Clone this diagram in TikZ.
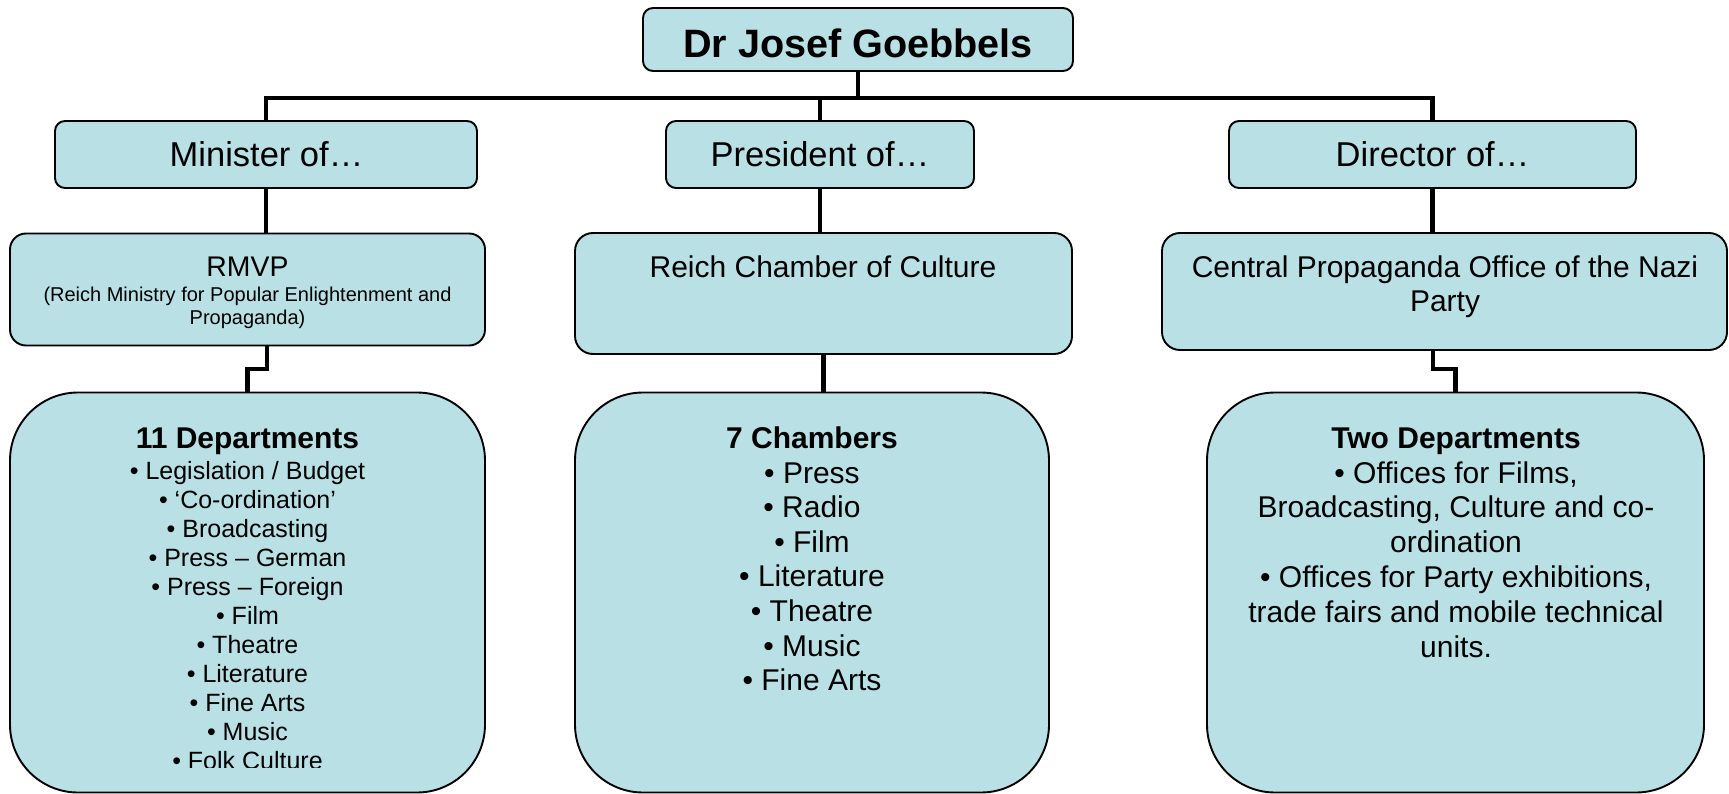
\documentclass[tikz,border=0pt]{standalone}
\usepackage{fontspec}
\setmainfont{Liberation Sans}
\definecolor{boxfill}{RGB}{185,224,228}
\begin{document}
\begin{tikzpicture}[x=1pt,y=-1pt,
  obox/.style={draw=black, line width=1.9pt, fill=boxfill, rounded corners=#1, inner sep=0pt, outer sep=0pt},
  conn/.style={line width=4.6pt, line join=miter},
  lbl/.style={inner sep=0pt, outer sep=0pt, anchor=base},
  fgoeb/.style={lbl, font=\fontsize{39.6}{45}\selectfont\bfseries},
  frole/.style={lbl, font=\fontsize{34.5}{40}\selectfont},
  fmid/.style={lbl, font=\fontsize{30}{34.7}\selectfont},
  fhead/.style={lbl, font=\fontsize{30}{34.7}\selectfont\bfseries},
  fsmall/.style={lbl, font=\fontsize{25}{29}\selectfont},
  fabbr/.style={lbl, font=\fontsize{28.4}{32}\selectfont},
  fnote/.style={lbl, font=\fontsize{20}{23}\selectfont},
]
\useasboundingbox (0,0) rectangle (1729,794);

% boxes
\node[obox=10pt, minimum width=430pt, minimum height=63pt] (goeb) at (858,39.5) {};
\node[obox=10pt, minimum width=422pt, minimum height=67pt] (minister) at (266,154.5) {};
\node[obox=10pt, minimum width=308pt, minimum height=67pt] (president) at (820,154.5) {};
\node[obox=10pt, minimum width=407pt, minimum height=67pt] (director) at (1432.5,154.5) {};
\node[obox=16pt, minimum width=475pt, minimum height=112pt] (rmvp) at (247.5,289.5) {};
\node[obox=18pt, minimum width=497pt, minimum height=121pt] (reich) at (823.5,293.5) {};
\node[obox=18pt, minimum width=565pt, minimum height=117pt] (central) at (1444.5,291.5) {};
\node[obox=68pt, minimum width=475pt, minimum height=400pt] (dept) at (247.5,592.5) {};
\node[obox=68pt, minimum width=474pt, minimum height=400pt] (chambers) at (812,592.5) {};
\node[obox=68pt, minimum width=497pt, minimum height=400pt] (two) at (1455.5,592.5) {};

% connectors
\coordinate (bar) at (858,98);
\draw[conn] (goeb.south) -- (bar);
\draw[conn] (minister.north) |- (bar) -| (director.north);
\draw[conn] (president.north) -- (president.north |- bar);
\draw[conn] (minister.south) -- (minister.south |- rmvp.north);
\draw[conn] (president.south) -- (president.south |- reich.north);
\draw[conn] (director.south) -- (director.south |- central.north);
\coordinate (rk1) at (267,369);
\draw[conn] (rk1 |- rmvp.south) -- (rk1) -| (dept.north);
\draw[conn] (reich.south) -- (reich.south |- chambers.north);
\coordinate (rk2) at (1433,369);
\draw[conn] (rk2 |- central.south) -- (rk2) -| (two.north);

% texts
\node[fgoeb] (goebT) at (858,58) {Dr Josef Goebbels};
\node[frole] (ministerT) at (266.5,167) {Minister of…};
\node[frole] (presidentT) at (820,167) {President of…};
\node[frole] (directorT) at (1432.5,167) {Director of…};
\node[fabbr] (rmvpT) at (247.5,276.7) {RMVP};
\node[fnote] (rmvpN1) at (247.5,301.5) {(Reich Ministry for Popular Enlightenment and};
\node[fnote] (rmvpN2) at (247.5,324) {Propaganda)};
\node[fmid] (reichT) at (823,278) {Reich Chamber of Culture};
\node[fmid] (centralT1) at (1445,278) {Central Propaganda Office of the Nazi};
\node[fmid] (centralT2) at (1445,312) {Party};

\node[fhead] (deptH) at (247.5,448) {11 Departments};
\foreach \t [count=\i] in {Legislation / Budget, ‘Co-ordination’, Broadcasting, Press – German, Press – Foreign, Film, Theatre, Literature, Fine Arts, Music}
  \node[fsmall] (dl\i) at (247.5,{479+29*(\i-1)}) {• \t};
\begin{scope}
  \clip (0,0) rectangle (1729,767);
  \node[fsmall] (dl11) at (247.5,769) {• Folk Culture};
\end{scope}

\node[fhead] (chamH) at (812,448) {7 Chambers};
\foreach \t [count=\i] in {Press, Radio, Film, Literature, Theatre, Music, Fine Arts}
  \node[fmid] (cl\i) at (812,{483+34.6*(\i-1)}) {• \t};

\node[fhead] (twoH) at (1456,448) {Two Departments};
\foreach \t [count=\i] in {{• Offices for Films,}, {Broadcasting, Culture and co-}, ordination, {• Offices for Party exhibitions,}, trade fairs and mobile technical, units.}
  \node[fmid] (tl\i) at (1456,{483+34.8*(\i-1)}) {\t};
\end{tikzpicture}
\end{document}
